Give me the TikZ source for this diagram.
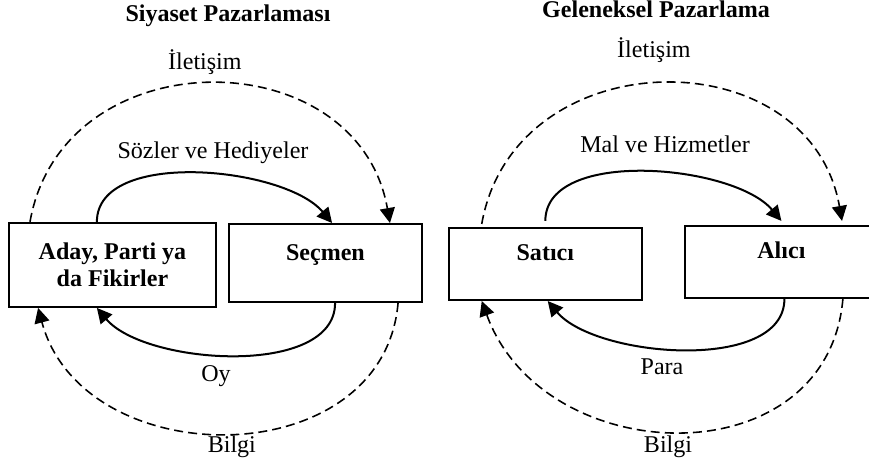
\documentclass[tikz,border=0pt]{standalone}
\usepackage{fontspec}
\setmainfont{Liberation Serif}
\usepackage{tikz}
\usetikzlibrary{arrows.meta, positioning}
\tikzset{
	txt/.style  ={font=\fontsize{22.8}{25}\selectfont, anchor=base},
	hdr/.style  ={anchor=base, font=\fontsize{22.8}{25}\selectfont\bfseries},
	party/.style={rectangle, draw=black, line width=2pt, align=center, inner sep=0pt, font=\fontsize{22.8}{25}\selectfont\bfseries},
	oneline/.style={text height=0.6cm, text depth=0.8cm},
	flow/.style ={-{Triangle[length=0.5cm, width=0.5cm]}, line width=1.9pt},
	info/.style ={-{Triangle[length=0.5cm, width=0.5cm]}, line width=1.5pt, dash pattern=on 0.3cm off 0.17cm},
}

\begin{document}
\begin{tikzpicture}
	\useasboundingbox (0,0) rectangle (28.97,15.5);
	% siyaset pazarlamasi
	\node[hdr] (t1) at (7.6,14.77) {Siyaset Pazarlaması};
	\node[txt] (il1) at (6.83,13.18) {İletişim};
	\node[txt] (sh) at (7.1,10.2) {Sözler ve Hediyeler};
	\node[party, minimum width=6.9cm, minimum height=2.8cm] (aday) at (3.75,6.67) {Aday, Parti ya\\ da Fikirler};
	\node[party, oneline, minimum width=6.43cm, minimum height=2.6cm] (secmen) at (10.85,6.73) {Seçmen};
	\node[txt] (oy) at (7.2,2.77) {Oy};
	\node[txt] (bilgi1) at (7.73,0.4) {Bilgi};
	\draw[flow] ([xshift=-0.52cm]aday.north) to[out=90, in=130, looseness=0.8] ([xshift=0.22cm]secmen.north);
	\draw[flow] ([xshift=0.32cm]secmen.south) to[out=-90, in=-50, looseness=0.8] ([xshift=-0.52cm]aday.south);
	\draw[info] ([xshift=-2.75cm]aday.north) to[out=80, in=100, looseness=1.33] ([xshift=2.15cm]secmen.north);
	\draw[info] ([xshift=2.42cm]secmen.south) to[out=-95, in=-75, looseness=1.23] ([xshift=-2.48cm]aday.south);
	% geleneksel pazarlama
	\node[hdr] (t2) at (21.87,14.9) {Geleneksel Pazarlama};
	\node[txt] (il2) at (21.8,13.57) {İletişim};
	\node[txt] (mh) at (22.17,10.43) {Mal ve Hizmetler};
	\node[party, oneline, minimum width=6.43cm, minimum height=2.4cm] (satici) at (18.18,6.7) {Satıcı};
	\node[party, oneline, minimum width=6.43cm, minimum height=2.4cm] (alici) at (26.05,6.77) {Alıcı};
	\node[txt] (para) at (22.07,3.0) {Para};
	\node[txt] (bilgi2) at (22.27,0.4) {Bilgi};
	\draw[flow] ([yshift=0.2cm]satici.north) to[out=90, in=130, looseness=0.8] ([yshift=0.13cm]alici.north);
	\draw[flow] ([xshift=0.1cm]alici.south) to[out=-90, in=-50, looseness=0.8] ([xshift=0.08cm]satici.south);
	\draw[info] ([xshift=-2.12cm, yshift=0.1cm]satici.north) to[out=80, in=100, looseness=1.33] ([xshift=2.02cm, yshift=0.13cm]alici.north);
	\draw[info] ([xshift=2.05cm]alici.south) to[out=-95, in=-70, looseness=1.28] ([xshift=-2.12cm]satici.south);
\end{tikzpicture}
\end{document}
